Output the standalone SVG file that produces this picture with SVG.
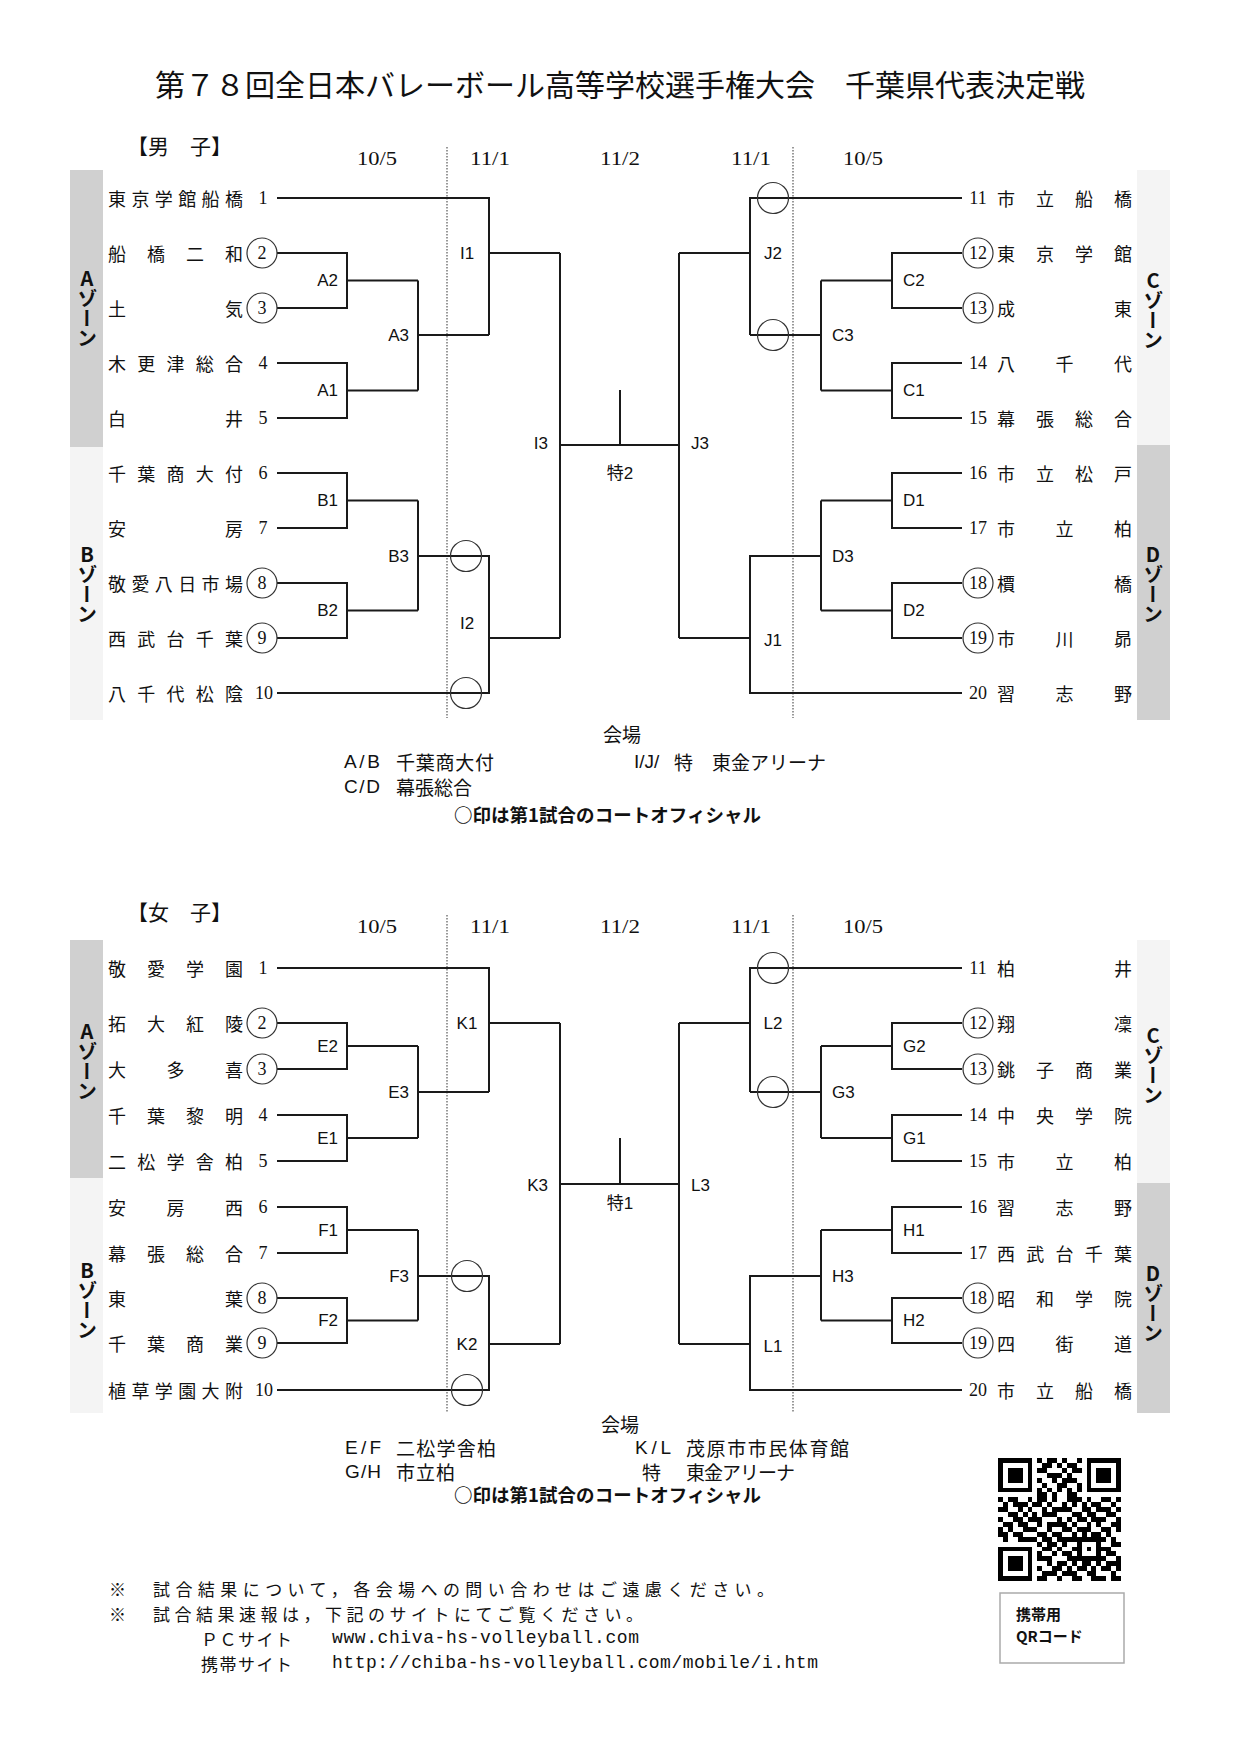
<svg xmlns="http://www.w3.org/2000/svg" width="1240" height="1754" viewBox="0 0 1240 1754">
<style>
.bg{fill:#ffffff}
.ln{stroke:#1a1a1a;stroke-width:2;fill:none}
.dot{stroke:#555;stroke-width:1.2;stroke-dasharray:1.5 1.5;fill:none}
.cir{fill:none;stroke:#333;stroke-width:1.2}
.dk{fill:#d0d0d0}
.lt{fill:#f4f4f4}
text{dominant-baseline:central;fill:#111}
.nm{font-family:"Noto Sans CJK JP",sans-serif;font-size:18px}
.num{font-family:"Liberation Serif","Noto Sans CJK JP",serif;font-size:18px;text-anchor:middle}
.lbl{font-family:"Liberation Sans","Noto Sans CJK JP",sans-serif;font-size:17px}
.r{text-anchor:end}
.m{text-anchor:middle}
.date{font-family:"Liberation Serif",serif;font-size:19px;text-anchor:middle}
.zone{font-family:"Noto Sans CJK JP",sans-serif;font-weight:bold;font-size:20px;writing-mode:vertical-rl;text-orientation:upright;text-anchor:middle}
.hd{font-family:"Noto Sans CJK JP",sans-serif;font-size:21px}
.leg{font-family:"Noto Sans CJK JP",sans-serif;font-size:19px}
.legl{font-family:"Liberation Sans",sans-serif;font-size:19px}
.note{font-family:"Noto Sans CJK JP",sans-serif;font-size:18.5px;font-weight:bold}
.ft{font-family:"Noto Sans CJK JP",sans-serif;font-size:17px}
.url{font-family:"Liberation Mono",monospace;font-size:18px}
.qr{font-family:"Noto Sans CJK JP",sans-serif;font-size:15px;font-weight:bold}
</style>
<rect class="bg" x="0" y="0" width="1240" height="1754"/>

<text id="title" x="620" y="83" text-anchor="middle" style="font-family:'Noto Sans CJK JP',sans-serif;font-size:30px">第７８回全日本バレーボール高等学校選手権大会　千葉県代表決定戦</text>

<!-- ===== MEN ===== -->
<g id="men-header">
<text class="hd" x="127" y="145">【男　子】</text>
<text class="date" x="377" y="158" textLength="40" lengthAdjust="spacingAndGlyphs">10/5</text>
<text class="date" x="490" y="158" textLength="40" lengthAdjust="spacingAndGlyphs">11/1</text>
<text class="date" x="620" y="158" textLength="40" lengthAdjust="spacingAndGlyphs">11/2</text>
<text class="date" x="751" y="158" textLength="40" lengthAdjust="spacingAndGlyphs">11/1</text>
<text class="date" x="863" y="158" textLength="40" lengthAdjust="spacingAndGlyphs">10/5</text>
</g>
<g id="men-zones">
<rect class="dk" x="70" y="170" width="33" height="277"/>
<rect class="lt" x="70" y="447" width="33" height="273"/>
<rect class="lt" x="1137" y="170" width="33" height="275"/>
<rect class="dk" x="1137" y="445" width="33" height="275"/>
<text class="zone" x="87" y="308">Aゾーン</text>
<text class="zone" x="87" y="584">Bゾーン</text>
<text class="zone" x="1153" y="310">Cゾーン</text>
<text class="zone" x="1153" y="584">Dゾーン</text>
</g>
<g id="men-dividers">
<line class="dot" x1="447" y1="147" x2="447" y2="718"/>
<line class="dot" x1="793" y1="147" x2="793" y2="718"/>
</g>
<g id="men-connectors">
<path class="ln" d="M277 198H489V335M277 253H347V308H277M347 280.5H418M277 363H347V418H277M347 390.5H418M418 280.5V390.5M418 335H489M489 253H560M277 473H347V528H277M347 500.5H418M277 583H347V638H277M347 610.5H418M418 500.5V610.5M418 556H489V693H277M489 638H560M560 253V638M560 445H679M620 390V445"/>
<path class="ln" d="M962 198H750V335M962 253H892V308H962M892 280.5H821M962 363H892V418H962M892 390.5H821M821 280.5V390.5M821 335H750M750 253H679M962 473H892V528H962M892 500.5H821M962 583H892V638H962M892 610.5H821M821 500.5V610.5M821 556H750V693H962M750 638H679M679 253V638"/>
</g>
<g id="men-teams-left">
<g id="m1"><text class="nm" x="108 131.4 154.8 178.2 201.6 225" y="198">東京学館船橋</text><text class="num" x="263" y="198">1</text></g>
<g id="m2"><text class="nm" x="108 147 186 225" y="253">船橋二和</text><circle class="cir" cx="262" cy="253" r="15"/><text class="num" x="262" y="253">2</text></g>
<g id="m3"><text class="nm" x="108 225" y="308">土気</text><circle class="cir" cx="262" cy="308" r="15"/><text class="num" x="262" y="308">3</text></g>
<g id="m4"><text class="nm" x="108 137.25 166.5 195.75 225" y="363">木更津総合</text><text class="num" x="263" y="363">4</text></g>
<g id="m5"><text class="nm" x="108 225" y="418">白井</text><text class="num" x="263" y="418">5</text></g>
<g id="m6"><text class="nm" x="108 137.25 166.5 195.75 225" y="473">千葉商大付</text><text class="num" x="263" y="473">6</text></g>
<g id="m7"><text class="nm" x="108 225" y="528">安房</text><text class="num" x="263" y="528">7</text></g>
<g id="m8"><text class="nm" x="108 131.4 154.8 178.2 201.6 225" y="583">敬愛八日市場</text><circle class="cir" cx="262" cy="583" r="15"/><text class="num" x="262" y="583">8</text></g>
<g id="m9"><text class="nm" x="108 137.25 166.5 195.75 225" y="638">西武台千葉</text><circle class="cir" cx="262" cy="638" r="15"/><text class="num" x="262" y="638">9</text></g>
<g id="m10"><text class="nm" x="108 137.25 166.5 195.75 225" y="693">八千代松陰</text><text class="num" x="264" y="693">10</text></g>
</g>
<g id="men-teams-right">
<g id="m11"><text class="num" x="978" y="198">11</text><text class="nm" x="997 1036 1075 1114" y="198">市立船橋</text></g>
<g id="m12"><circle class="cir" cx="978" cy="253" r="15"/><text class="num" x="978" y="253">12</text><text class="nm" x="997 1036 1075 1114" y="253">東京学館</text></g>
<g id="m13"><circle class="cir" cx="978" cy="308" r="15"/><text class="num" x="978" y="308">13</text><text class="nm" x="997 1114" y="308">成東</text></g>
<g id="m14"><text class="num" x="978" y="363">14</text><text class="nm" x="997 1055.5 1114" y="363">八千代</text></g>
<g id="m15"><text class="num" x="978" y="418">15</text><text class="nm" x="997 1036 1075 1114" y="418">幕張総合</text></g>
<g id="m16"><text class="num" x="978" y="473">16</text><text class="nm" x="997 1036 1075 1114" y="473">市立松戸</text></g>
<g id="m17"><text class="num" x="978" y="528">17</text><text class="nm" x="997 1055.5 1114" y="528">市立柏</text></g>
<g id="m18"><circle class="cir" cx="978" cy="583" r="15"/><text class="num" x="978" y="583">18</text><text class="nm" x="997 1114" y="583">檟橋</text></g>
<g id="m19"><circle class="cir" cx="978" cy="638" r="15"/><text class="num" x="978" y="638">19</text><text class="nm" x="997 1055.5 1114" y="638">市川昴</text></g>
<g id="m20"><text class="num" x="978" y="693">20</text><text class="nm" x="997 1055.5 1114" y="693">習志野</text></g>
</g>
<g id="men-matches">
<g id="mA2"><text class="lbl r" x="338" y="280.5">A2</text></g>
<g id="mA1"><text class="lbl r" x="338" y="390.5">A1</text></g>
<g id="mA3"><text class="lbl r" x="409" y="335">A3</text></g>
<g id="mB1"><text class="lbl r" x="338" y="500.5">B1</text></g>
<g id="mB2"><text class="lbl r" x="338" y="610.5">B2</text></g>
<g id="mB3"><text class="lbl r" x="409" y="556">B3</text></g>
<g id="mI1"><text class="lbl m" x="467" y="253">I1</text></g>
<g id="mI2"><text class="lbl m" x="467" y="623">I2</text><circle class="cir" cx="466" cy="556" r="15.5"/><circle class="cir" cx="466" cy="693" r="15.5"/></g>
<g id="mI3"><text class="lbl r" x="548" y="443">I3</text></g>
<g id="mSP"><text class="lbl m" x="620" y="473">特2</text></g>
<g id="mJ3"><text class="lbl" x="691" y="443">J3</text></g>
<g id="mJ2"><text class="lbl m" x="773" y="253">J2</text><circle class="cir" cx="773" cy="198" r="15.5"/><circle class="cir" cx="773" cy="335" r="15.5"/></g>
<g id="mJ1"><text class="lbl m" x="773" y="640">J1</text></g>
<g id="mC2"><text class="lbl" x="903" y="280.5">C2</text></g>
<g id="mC1"><text class="lbl" x="903" y="390.5">C1</text></g>
<g id="mC3"><text class="lbl" x="832" y="335">C3</text></g>
<g id="mD1"><text class="lbl" x="903" y="500.5">D1</text></g>
<g id="mD2"><text class="lbl" x="903" y="610.5">D2</text></g>
<g id="mD3"><text class="lbl" x="832" y="556">D3</text></g>
</g>
<g id="men-legend">
<text class="leg" x="622" y="733" text-anchor="middle">会場</text>
<text class="legl" x="344" y="761" textLength="36">A/B</text>
<text class="leg" x="396" y="761" textLength="98">千葉商大付</text>
<text class="legl" x="344" y="786" textLength="36">C/D</text>
<text class="leg" x="396" y="786" textLength="76">幕張総合</text>
<text class="legl" x="634" y="761">I/J/</text>
<text class="leg" x="674" y="761">特</text>
<text class="leg" x="712" y="761" textLength="114">東金アリーナ</text>
<text class="note" x="454" y="814" textLength="307">○印は第1試合のコートオフィシャル</text>
</g>

<!-- ===== WOMEN ===== -->
<g id="women-header">
<text class="hd" x="127" y="911">【女　子】</text>
<text class="date" x="377" y="926" textLength="40" lengthAdjust="spacingAndGlyphs">10/5</text>
<text class="date" x="490" y="926" textLength="40" lengthAdjust="spacingAndGlyphs">11/1</text>
<text class="date" x="620" y="926" textLength="40" lengthAdjust="spacingAndGlyphs">11/2</text>
<text class="date" x="751" y="926" textLength="40" lengthAdjust="spacingAndGlyphs">11/1</text>
<text class="date" x="863" y="926" textLength="40" lengthAdjust="spacingAndGlyphs">10/5</text>
</g>
<g id="women-zones">
<rect class="dk" x="70" y="940" width="33" height="238"/>
<rect class="lt" x="70" y="1178" width="33" height="235"/>
<rect class="lt" x="1137" y="940" width="33" height="243"/>
<rect class="dk" x="1137" y="1183" width="33" height="230"/>
<text class="zone" x="87" y="1061">Aゾーン</text>
<text class="zone" x="87" y="1300">Bゾーン</text>
<text class="zone" x="1153" y="1065">Cゾーン</text>
<text class="zone" x="1153" y="1303">Dゾーン</text>
</g>
<g id="women-dividers">
<line class="dot" x1="447" y1="915" x2="447" y2="1413"/>
<line class="dot" x1="793" y1="915" x2="793" y2="1413"/>
</g>
<g id="women-connectors">
<path class="ln" d="M277 968H489V1092M277 1023H347V1069H277M347 1046H418M277 1115H347V1161H277M347 1138H418M418 1046V1138M418 1092H489M489 1023H560M277 1207H347V1253H277M347 1230H418M277 1298H347V1343H277M347 1320.5H418M418 1230V1320.5M418 1276H489V1390H277M489 1344H560M560 1023V1344M560 1184H679M620 1138V1184"/>
<path class="ln" d="M962 968H750V1092M962 1023H892V1069H962M892 1046H821M962 1115H892V1161H962M892 1138H821M821 1046V1138M821 1092H750M750 1023H679M962 1207H892V1253H962M892 1230H821M962 1298H892V1343H962M892 1320.5H821M821 1230V1320.5M821 1276H750V1390H962M750 1344H679M679 1023V1344"/>
</g>
<g id="women-teams-left">
<g id="w1"><text class="nm" x="108 147 186 225" y="968">敬愛学園</text><text class="num" x="263" y="968">1</text></g>
<g id="w2"><text class="nm" x="108 147 186 225" y="1023">拓大紅陵</text><circle class="cir" cx="262" cy="1023" r="15"/><text class="num" x="262" y="1023">2</text></g>
<g id="w3"><text class="nm" x="108 166.5 225" y="1069">大多喜</text><circle class="cir" cx="262" cy="1069" r="15"/><text class="num" x="262" y="1069">3</text></g>
<g id="w4"><text class="nm" x="108 147 186 225" y="1115">千葉黎明</text><text class="num" x="263" y="1115">4</text></g>
<g id="w5"><text class="nm" x="108 137.25 166.5 195.75 225" y="1161">二松学舎柏</text><text class="num" x="263" y="1161">5</text></g>
<g id="w6"><text class="nm" x="108 166.5 225" y="1207">安房西</text><text class="num" x="263" y="1207">6</text></g>
<g id="w7"><text class="nm" x="108 147 186 225" y="1253">幕張総合</text><text class="num" x="263" y="1253">7</text></g>
<g id="w8"><text class="nm" x="108 225" y="1298">東葉</text><circle class="cir" cx="262" cy="1298" r="15"/><text class="num" x="262" y="1298">8</text></g>
<g id="w9"><text class="nm" x="108 147 186 225" y="1343">千葉商業</text><circle class="cir" cx="262" cy="1343" r="15"/><text class="num" x="262" y="1343">9</text></g>
<g id="w10"><text class="nm" x="108 131.4 154.8 178.2 201.6 225" y="1390">植草学園大附</text><text class="num" x="264" y="1390">10</text></g>
</g>
<g id="women-teams-right">
<g id="w11"><text class="num" x="978" y="968">11</text><text class="nm" x="997 1114" y="968">柏井</text></g>
<g id="w12"><circle class="cir" cx="978" cy="1023" r="15"/><text class="num" x="978" y="1023">12</text><text class="nm" x="997 1114" y="1023">翔凜</text></g>
<g id="w13"><circle class="cir" cx="978" cy="1069" r="15"/><text class="num" x="978" y="1069">13</text><text class="nm" x="997 1036 1075 1114" y="1069">銚子商業</text></g>
<g id="w14"><text class="num" x="978" y="1115">14</text><text class="nm" x="997 1036 1075 1114" y="1115">中央学院</text></g>
<g id="w15"><text class="num" x="978" y="1161">15</text><text class="nm" x="997 1055.5 1114" y="1161">市立柏</text></g>
<g id="w16"><text class="num" x="978" y="1207">16</text><text class="nm" x="997 1055.5 1114" y="1207">習志野</text></g>
<g id="w17"><text class="num" x="978" y="1253">17</text><text class="nm" x="997 1026.25 1055.5 1084.75 1114" y="1253">西武台千葉</text></g>
<g id="w18"><circle class="cir" cx="978" cy="1298" r="15"/><text class="num" x="978" y="1298">18</text><text class="nm" x="997 1036 1075 1114" y="1298">昭和学院</text></g>
<g id="w19"><circle class="cir" cx="978" cy="1343" r="15"/><text class="num" x="978" y="1343">19</text><text class="nm" x="997 1055.5 1114" y="1343">四街道</text></g>
<g id="w20"><text class="num" x="978" y="1390">20</text><text class="nm" x="997 1036 1075 1114" y="1390">市立船橋</text></g>
</g>
<g id="women-matches">
<g id="wE2"><text class="lbl r" x="338" y="1046">E2</text></g>
<g id="wE1"><text class="lbl r" x="338" y="1138">E1</text></g>
<g id="wE3"><text class="lbl r" x="409" y="1092">E3</text></g>
<g id="wF1"><text class="lbl r" x="338" y="1230">F1</text></g>
<g id="wF2"><text class="lbl r" x="338" y="1320.5">F2</text></g>
<g id="wF3"><text class="lbl r" x="409" y="1276">F3</text></g>
<g id="wK1"><text class="lbl m" x="467" y="1023">K1</text></g>
<g id="wK2"><text class="lbl m" x="467" y="1344">K2</text><circle class="cir" cx="467" cy="1276" r="15.5"/><circle class="cir" cx="467" cy="1390" r="15.5"/></g>
<g id="wK3"><text class="lbl r" x="548" y="1185">K3</text></g>
<g id="wSP"><text class="lbl m" x="620" y="1203">特1</text></g>
<g id="wL3"><text class="lbl" x="691" y="1185">L3</text></g>
<g id="wL2"><text class="lbl m" x="773" y="1023">L2</text><circle class="cir" cx="773" cy="968" r="15.5"/><circle class="cir" cx="773" cy="1092" r="15.5"/></g>
<g id="wL1"><text class="lbl m" x="773" y="1346">L1</text></g>
<g id="wG2"><text class="lbl" x="903" y="1046">G2</text></g>
<g id="wG1"><text class="lbl" x="903" y="1138">G1</text></g>
<g id="wG3"><text class="lbl" x="832" y="1092">G3</text></g>
<g id="wH1"><text class="lbl" x="903" y="1230">H1</text></g>
<g id="wH2"><text class="lbl" x="903" y="1320.5">H2</text></g>
<g id="wH3"><text class="lbl" x="832" y="1276">H3</text></g>
</g>
<g id="women-legend">
<text class="leg" x="620" y="1423" text-anchor="middle">会場</text>
<text class="legl" x="345" y="1447" textLength="36">E/F</text>
<text class="leg" x="396" y="1447" textLength="100">二松学舎柏</text>
<text class="legl" x="635" y="1447" textLength="36">K/L</text>
<text class="leg" x="686" y="1447" textLength="163">茂原市市民体育館</text>
<text class="legl" x="345" y="1471" textLength="36">G/H</text>
<text class="leg" x="396" y="1471" textLength="59">市立柏</text>
<text class="leg" x="642" y="1471">特</text>
<text class="leg" x="686" y="1471" textLength="109">東金アリーナ</text>
<text class="note" x="454" y="1494" textLength="307">○印は第1試合のコートオフィシャル</text>
</g>

<g id="qr" transform="translate(998 1458) scale(4.92)" shape-rendering="crispEdges">
<path fill="#000" d="M0 0h7v1h-7zM8 0h1v1h-1zM10 0h2v1h-2zM13 0h1v1h-1zM16 0h1v1h-1zM18 0h7v1h-7zM0 1h1v1h-1zM6 1h1v1h-1zM9 1h2v1h-2zM12 1h1v1h-1zM14 1h2v1h-2zM18 1h1v1h-1zM24 1h1v1h-1zM0 2h1v1h-1zM2 2h3v1h-3zM6 2h1v1h-1zM8 2h2v1h-2zM13 2h1v1h-1zM15 2h2v1h-2zM18 2h1v1h-1zM20 2h3v1h-3zM24 2h1v1h-1zM0 3h1v1h-1zM2 3h3v1h-3zM6 3h1v1h-1zM10 3h3v1h-3zM14 3h1v1h-1zM18 3h1v1h-1zM20 3h3v1h-3zM24 3h1v1h-1zM0 4h1v1h-1zM2 4h3v1h-3zM6 4h1v1h-1zM8 4h1v1h-1zM11 4h1v1h-1zM13 4h3v1h-3zM18 4h1v1h-1zM20 4h3v1h-3zM24 4h1v1h-1zM0 5h1v1h-1zM6 5h1v1h-1zM9 5h1v1h-1zM12 5h2v1h-2zM16 5h1v1h-1zM18 5h1v1h-1zM24 5h1v1h-1zM0 6h7v1h-7zM8 6h1v1h-1zM10 6h1v1h-1zM12 6h1v1h-1zM14 6h1v1h-1zM16 6h1v1h-1zM18 6h7v1h-7zM8 7h2v1h-2zM11 7h1v1h-1zM14 7h2v1h-2zM0 8h1v1h-1zM2 8h2v1h-2zM6 8h1v1h-1zM8 8h2v1h-2zM11 8h1v1h-1zM14 8h3v1h-3zM18 8h1v1h-1zM21 8h2v1h-2zM24 8h1v1h-1zM1 9h1v1h-1zM3 9h3v1h-3zM7 9h2v1h-2zM10 9h1v1h-1zM13 9h1v1h-1zM15 9h1v1h-1zM17 9h1v1h-1zM19 9h2v1h-2zM23 9h1v1h-1zM0 10h2v1h-2zM4 10h1v1h-1zM6 10h1v1h-1zM9 10h1v1h-1zM11 10h4v1h-4zM17 10h2v1h-2zM20 10h3v1h-3zM24 10h1v1h-1zM2 11h2v1h-2zM5 11h1v1h-1zM7 11h1v1h-1zM9 11h3v1h-3zM15 11h2v1h-2zM18 11h2v1h-2zM22 11h2v1h-2zM0 12h1v1h-1zM3 12h2v1h-2zM6 12h3v1h-3zM12 12h1v1h-1zM14 12h1v1h-1zM16 12h2v1h-2zM19 12h3v1h-3zM24 12h1v1h-1zM1 13h2v1h-2zM4 13h2v1h-2zM8 13h1v1h-1zM10 13h4v1h-4zM15 13h1v1h-1zM18 13h1v1h-1zM20 13h1v1h-1zM23 13h2v1h-2zM0 14h1v1h-1zM2 14h1v1h-1zM5 14h3v1h-3zM10 14h1v1h-1zM13 14h2v1h-2zM16 14h3v1h-3zM21 14h2v1h-2zM24 14h1v1h-1zM0 15h2v1h-2zM3 15h2v1h-2zM8 15h2v1h-2zM11 15h2v1h-2zM15 15h1v1h-1zM17 15h1v1h-1zM19 15h2v1h-2zM22 15h1v1h-1zM1 16h1v1h-1zM4 16h4v1h-4zM9 16h2v1h-2zM12 16h10v1h-10zM23 16h1v1h-1zM8 17h1v1h-1zM10 17h2v1h-2zM13 17h1v1h-1zM16 17h1v1h-1zM20 17h1v1h-1zM23 17h2v1h-2zM0 18h7v1h-7zM9 18h2v1h-2zM12 18h1v1h-1zM15 18h2v1h-2zM18 18h1v1h-1zM20 18h3v1h-3zM0 19h1v1h-1zM6 19h1v1h-1zM8 19h1v1h-1zM11 19h1v1h-1zM13 19h2v1h-2zM16 19h1v1h-1zM20 19h1v1h-1zM22 19h2v1h-2zM0 20h1v1h-1zM2 20h3v1h-3zM6 20h1v1h-1zM8 20h3v1h-3zM14 20h8v1h-8zM24 20h1v1h-1zM0 21h1v1h-1zM2 21h3v1h-3zM6 21h1v1h-1zM10 21h1v1h-1zM12 21h2v1h-2zM15 21h1v1h-1zM17 21h2v1h-2zM20 21h1v1h-1zM22 21h3v1h-3zM0 22h1v1h-1zM2 22h3v1h-3zM6 22h1v1h-1zM8 22h1v1h-1zM11 22h2v1h-2zM14 22h1v1h-1zM16 22h2v1h-2zM19 22h1v1h-1zM21 22h2v1h-2zM24 22h1v1h-1zM0 23h1v1h-1zM6 23h1v1h-1zM9 23h3v1h-3zM13 23h3v1h-3zM18 23h2v1h-2zM23 23h1v1h-1zM0 24h7v1h-7zM8 24h2v1h-2zM12 24h1v1h-1zM15 24h2v1h-2zM19 24h3v1h-3zM23 24h2v1h-2z"/>
</g>
<g id="qr-caption">
<rect x="1000" y="1593" width="124" height="70" fill="#fff" stroke="#aaa" stroke-width="1.5"/>
<text class="qr" x="1016" y="1613">携帯用</text>
<text class="qr" x="1016" y="1635">QRコード</text>
</g>

<g id="footer">
<text class="ft" x="109" y="1588">※</text>
<text class="ft" x="153" y="1588" textLength="621">試合結果について，各会場への問い合わせはご遠慮ください。</text>
<text class="ft" x="109" y="1613">※</text>
<text class="ft" x="153" y="1613" textLength="490">試合結果速報は，下記のサイトにてご覧ください。</text>
<text class="ft" x="201" y="1638" textLength="91">ＰＣサイト</text>
<text class="url" x="332" y="1638" textLength="307">www.chiva-hs-volleyball.com</text>
<text class="ft" x="201" y="1663" textLength="91">携帯サイト</text>
<text class="url" x="332" y="1663" textLength="486">http://chiba-hs-volleyball.com/mobile/i.htm</text>
</g>
</svg>
